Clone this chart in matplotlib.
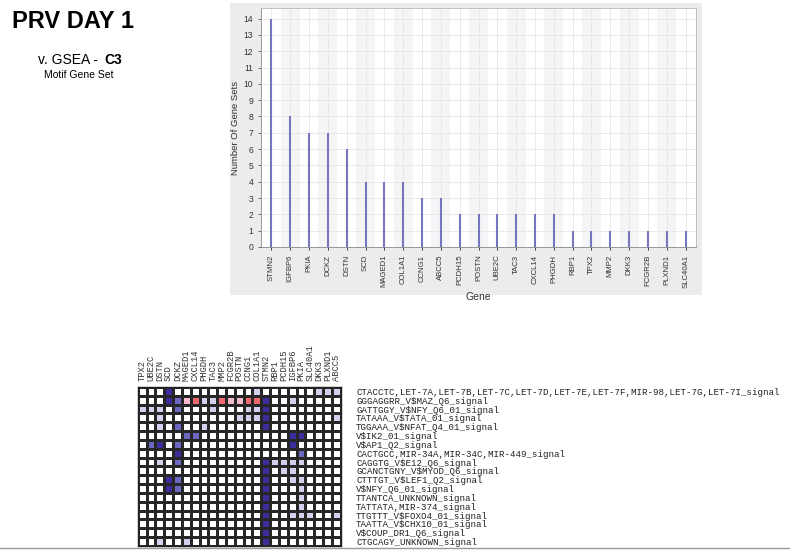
#Imports
import numpy as np
import matplotlib.pyplot as plt
from matplotlib.colors import ListedColormap, BoundaryNorm
from matplotlib.patches import Rectangle
from matplotlib.lines import Line2D

plt.rcParams['font.family'] = ['Liberation Sans', 'DejaVu Sans']

#Bar chart data
Bar_Genes = ['STMN2', 'IGFBP6', 'PKIA', 'DCKZ', 'DSTN', 'SCD', 'MAGED1', 'COL1A1',
             'CCNG1', 'ABCC5', 'PCDH15', 'POSTN', 'UBE2C', 'TAC3', 'CXCL14', 'PHGDH',
             'RBP1', 'TPX2', 'MMP2', 'DKK3', 'FCGR2B', 'PLXND1', 'SLC40A1']
Bar_Counts = [14, 8, 7, 7, 6, 4, 4, 4, 3, 3, 2, 2, 2, 2, 2, 2, 1, 1, 1, 1, 1, 1, 1]

#Heatmap data
Heat_Genes = ['TPX2', 'UBE2C', 'DSTN', 'SCD', 'DCKZ', 'MAGED1', 'CXCL14', 'PHGDH',
              'TAC3', 'MMP2', 'FCGR2B', 'POSTN', 'CCNG1', 'COL1A1', 'STMN2', 'RBP1',
              'PCDH15', 'IGFBP6', 'PKIA', 'SLC40A1', 'DKK3', 'PLXND1', 'ABCC5']
Gene_Sets = ['CTACCTC,LET-7A,LET-7B,LET-7C,LET-7D,LET-7E,LET-7F,MIR-98,LET-7G,LET-7I_signal',
             'GGGAGGRR_V$MAZ_Q6_signal',
             'GATTGGY_V$NFY_Q6_01_signal',
             'TATAAA_V$TATA_01_signal',
             'TGGAAA_V$NFAT_Q4_01_signal',
             'V$IK2_01_signal',
             'V$AP1_Q2_signal',
             'CACTGCC,MIR-34A,MIR-34C,MIR-449_signal',
             'CAGGTG_V$E12_Q6_signal',
             'GCANCTGNY_V$MYOD_Q6_signal',
             'CTTTGT_V$LEF1_Q2_signal',
             'V$NFY_Q6_01_signal',
             'TTANTCA_UNKNOWN_signal',
             'TATTATA,MIR-374_signal',
             'TTGTTT_V$FOXO4_01_signal',
             'TAATTA_V$CHX10_01_signal',
             'V$COUP_DR1_Q6_signal',
             'CTGCAGY_UNKNOWN_signal']
# -2 red, -1 pink, 0 none, 1 light, 2 medium, 3 dark
Heat_Levels = [
    [0, 0, 0, 3, 0, 0, 0, 0, 0, 0, 0, 0, 0, 1, 0, 0, 0, 0, 0, 0, 1, 1, 1],
    [0, 0, 0, 3, 2, -1, -2, 1, 1, -2, -1, -1, -2, -2, 3, 0, 0, 1, 0, 0, 0, 0, 0],
    [1, 1, 1, 0, 2, 0, 0, 0, 1, 0, 0, 0, 1, 1, 3, 0, 0, 0, 0, 0, 0, 0, 0],
    [0, 0, 1, 0, 0, 0, 0, 0, 0, 0, 0, 1, 1, 1, 3, 0, 0, 0, 0, 0, 0, 0, 1],
    [0, 0, 1, 0, 2, 0, 0, 1, 0, 0, 0, 0, 0, 0, 3, 0, 0, 0, 0, 0, 0, 0, 0],
    [0, 0, 0, 0, 0, 2, 2, 0, 0, 0, 0, 0, 0, 0, 0, 0, 0, 3, 3, 0, 0, 0, 0],
    [0, 2, 3, 0, 2, 0, 0, 0, 0, 0, 0, 0, 0, 0, 0, 0, 0, 3, 0, 0, 0, 0, 0],
    [0, 0, 0, 0, 3, 0, 0, 0, 0, 0, 0, 0, 0, 0, 0, 0, 0, 0, 2, 0, 0, 0, 0],
    [0, 0, 1, 0, 2, 0, 0, 0, 0, 0, 0, 0, 0, 0, 3, 1, 1, 1, 1, 0, 0, 0, 0],
    [0, 0, 0, 0, 0, 0, 0, 0, 0, 0, 0, 0, 0, 0, 3, 0, 1, 1, 0, 0, 0, 0, 0],
    [0, 0, 0, 3, 2, 0, 0, 0, 0, 0, 0, 0, 0, 0, 3, 0, 0, 1, 1, 0, 0, 0, 0],
    [0, 0, 0, 3, 2, 0, 0, 0, 0, 0, 0, 0, 0, 0, 3, 0, 0, 0, 1, 0, 0, 0, 0],
    [0, 0, 0, 0, 0, 0, 0, 0, 0, 0, 0, 0, 0, 0, 3, 0, 0, 0, 1, 0, 0, 0, 0],
    [0, 0, 0, 0, 0, 0, 0, 0, 0, 0, 0, 0, 0, 0, 3, 0, 0, 0, 1, 0, 0, 0, 0],
    [0, 0, 0, 0, 0, 0, 0, 0, 0, 0, 0, 0, 0, 0, 3, 0, 0, 1, 1, 1, 0, 0, 1],
    [0, 0, 0, 0, 0, 0, 0, 0, 0, 0, 0, 0, 0, 0, 3, 0, 0, 0, 0, 0, 0, 0, 0],
    [0, 0, 0, 0, 0, 0, 0, 0, 0, 0, 0, 0, 0, 0, 3, 0, 0, 0, 0, 0, 0, 0, 0],
    [0, 0, 1, 0, 0, 1, 0, 0, 0, 0, 0, 0, 0, 0, 3, 0, 0, 0, 0, 0, 0, 0, 0],
]

W, H = 790, 550
fig = plt.figure(figsize=(W / 100, H / 100), dpi=100)

def fx(px):
    return px / W

def fy(py):
    return 1 - py / H

#Slide titles
fig.text(fx(12), fy(22), 'PRV DAY 1', fontsize=17, fontweight='bold', va='center', ha='left')
fig.text(fx(102), fy(60), 'v. GSEA - ', fontsize=10, va='center', ha='right')
fig.text(fx(104), fy(60), 'C3', fontsize=10, fontweight='bold', va='center', ha='left')
fig.text(fx(79), fy(75), 'Motif Gene Set', fontsize=7.5, va='center', ha='center')

#Bar chart panel (gray frame behind the plot)
fig.add_artist(Rectangle((fx(230), fy(295)), fx(472), 292 / H, transform=fig.transFigure,
                         facecolor='#ececec', edgecolor='none', zorder=-10))
ax = fig.add_axes([fx(261), fy(247), fx(435), 239 / H])
ax.set_facecolor('white')
x = np.arange(len(Bar_Genes))
for i in x:
    if i % 2 == 1:
        ax.axvspan(i - 0.5, i + 0.5, color='#f5f5f7', lw=0, zorder=0)
ax.vlines(x, 0, Bar_Counts, color='#7576bd', lw=1.5, zorder=3)
ax.set_xlim(-0.55, len(Bar_Genes) - 0.45)
ax.set_ylim(0, 14.65)
ax.set_yticks(range(15))
ax.set_xticks(x)
ax.set_xticklabels(Bar_Genes, rotation=90, fontsize=5.6, color='#333333')
ax.tick_params(axis='y', labelsize=6.2, colors='#333333', length=2, width=0.5)
ax.tick_params(axis='x', length=2, width=0.5)
ax.grid(True, color='#e6e6e6', lw=0.6, zorder=1)
ax.set_axisbelow(True)
ax.set_ylabel('Number Of Gene Sets', fontsize=6.8, color='#333333', labelpad=3)
ax.set_xlabel('Gene', fontsize=7.5, color='#333333', labelpad=3)
for s in ax.spines.values():
    s.set_color('#b8b8b8')
    s.set_linewidth(0.6)
ax.spines['bottom'].set_color('#888888')
ax.spines['left'].set_color('#888888')

#Heatmap
hm_colors = ['#ee6a70', '#f5b9cb', '#ffffff', '#d3d1ee', '#6c68c2', '#3b2d9d']
cmap = ListedColormap(hm_colors)
norm = BoundaryNorm([-2.5, -1.5, -0.5, 0.5, 1.5, 2.5, 3.5], cmap.N)
n_rows, n_cols = len(Gene_Sets), len(Heat_Genes)
cell = 8.83
hx = fig.add_axes([fx(137.7), fy(387 + cell * n_rows), fx(cell * n_cols), cell * n_rows / H])
hx.pcolormesh(np.array(Heat_Levels), cmap=cmap, norm=norm, edgecolors='#262626', linewidth=0.8)
hx.set_xlim(0, n_cols)
hx.set_ylim(n_rows, 0)
hx.set_xticks(np.arange(n_cols) + 0.5)
hx.set_xticklabels(Heat_Genes, rotation=90, fontsize=6.3, family=['Liberation Mono', 'DejaVu Sans Mono'],
                   color='#333333')
hx.xaxis.tick_top()
hx.set_yticks(np.arange(n_rows) + 0.5)
hx.set_yticklabels(Gene_Sets, fontsize=6.6, family=['Liberation Mono', 'DejaVu Sans Mono'], color='#222222')
hx.yaxis.tick_right()
hx.tick_params(axis='y', length=0, pad=11)
hx.tick_params(axis='x', length=0, pad=4)
for s in hx.spines.values():
    s.set_color('#222222')
    s.set_linewidth(1)

#Slide bottom edge
fig.add_artist(Line2D([0, 1], [fy(548), fy(548)], transform=fig.transFigure, color='#999999', lw=1))

fig.savefig('out.png', dpi=100)
